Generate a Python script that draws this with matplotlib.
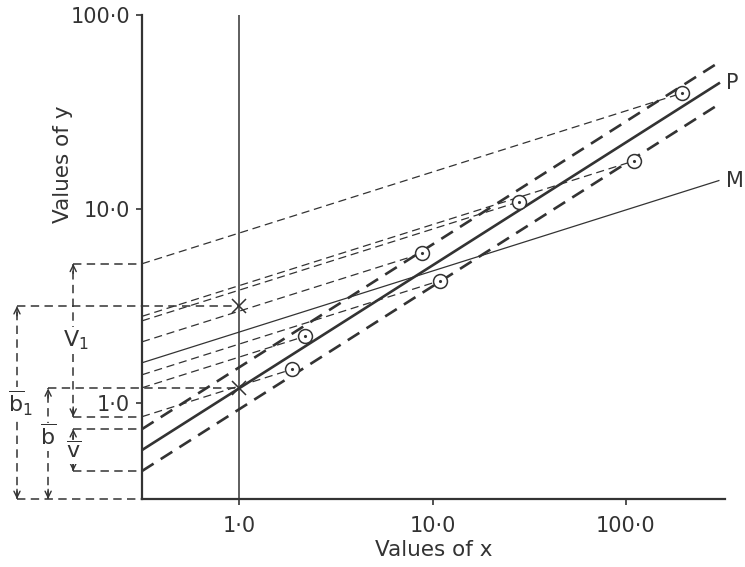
import numpy as np
import matplotlib
matplotlib.use('Agg')
import matplotlib.pyplot as plt
import matplotlib.transforms as mtransforms

pts_x = [1.87, 2.2, 8.8, 10.9, 28.0, 110.0, 194.0]
pts_y = [1.49, 2.21, 5.9, 4.27, 10.9, 17.7, 39.5]

# line P  y = p_a * x**p_b  with its dashed band (factor)
p_a, p_b = 1.19, 0.634
band = 10 ** 0.108
# line M  y = m_a * x**m_b ; the thin dashed lines share its slope
m_a, m_b = 2.32, 0.315

b1_val = 3.16          # upper cross at x = 1

x_lo, x_hi = 0.315, 325
y_lo, y_hi = 0.32, 100
x_end = 302

ticks = [1, 10, 100]
tick_labels = ['1·0', '10·0', '100·0']

ink = '#333333'
plt.rcParams['font.family'] = 'DejaVu Sans'
plt.rcParams['mathtext.fontset'] = 'dejavusans'

fig = plt.figure(figsize=(7.45, 5.67), dpi=100)
ax = fig.add_axes([0.1906, 0.1199, 0.7826, 0.8536])
ax.set_xscale('log')
ax.set_yscale('log')
ax.set_xlim(x_lo, x_hi)
ax.set_ylim(y_lo, y_hi)

xs = np.array([x_lo, x_end])
thick_dash = (0, (5.2, 3.2))
thin_dash = (0, (6.5, 3.8))

# P and its band
ax.plot(xs, p_a * xs ** p_b, color=ink, lw=1.9)
ax.plot(xs, p_a * xs ** p_b * band, color=ink, lw=1.9, ls=thick_dash)
ax.plot(xs, p_a * xs ** p_b / band, color=ink, lw=1.9, ls=thick_dash)
# M
ax.plot(xs, m_a * xs ** m_b, color=ink, lw=0.9)

# thin dashed lines through each point, slope of M
for xi, yi in zip(pts_x, pts_y):
    xx = np.array([x_lo, xi])
    ax.plot(xx, yi * (xx / xi) ** m_b, color=ink, lw=0.9, ls=thin_dash)

ax.axvline(1, color=ink, lw=1.1)
ax.plot([1, 1], [b1_val, p_a], 'x', color=ink, ms=10, mew=1.1, zorder=6)
ax.plot(pts_x, pts_y, 'o', ms=10, mfc='white', mec=ink, mew=1.1, zorder=5)
ax.plot(pts_x, pts_y, '.', ms=2.5, color=ink, zorder=6)

ax.annotate('P', xy=(x_end, p_a * x_end ** p_b), xytext=(5, 0),
            textcoords='offset points', va='center', ha='left', fontsize=15, color=ink)
ax.annotate('M', xy=(x_end, m_a * x_end ** m_b), xytext=(5, 0),
            textcoords='offset points', va='center', ha='left', fontsize=15, color=ink)

# axes
for s in ['top', 'right']:
    ax.spines[s].set_visible(False)
for s in ['left', 'bottom']:
    ax.spines[s].set_linewidth(1.6)
    ax.spines[s].set_color(ink)
ax.set_xticks(ticks, tick_labels)
ax.set_yticks(ticks, tick_labels)
ax.set_xticks([], minor=True)
ax.set_yticks([], minor=True)
ax.tick_params(direction='out', length=4.5, width=1.2, colors=ink, labelsize=15)
ax.tick_params(axis='x', pad=8)
ax.tick_params(axis='y', pad=4)

ax.text(0.5, -0.106, 'Values of x', transform=ax.transAxes,
        ha='center', va='center', fontsize=15.5, color=ink)
ax.text(-0.136, 0.692, 'Values of y', transform=ax.transAxes, rotation=90,
        ha='center', va='center', fontsize=15.5, color=ink)

# left-hand construction lines
trans = mtransforms.blended_transform_factory(ax.transAxes, ax.transData)
frac1 = (0 - np.log10(x_lo)) / (np.log10(x_hi) - np.log10(x_lo))
xa_b1, xa_b, xa_v = -0.2144, -0.161, -0.118
ann_dash = (0, (5.5, 3.5))

v1_top = pts_y[6] * (x_lo / pts_x[6]) ** m_b
v1_bot = pts_y[0] * (x_lo / pts_x[0]) ** m_b
p_lo = p_a * x_lo ** p_b
band_top, band_bot = p_lo * band, p_lo / band


def hline(y, x0, x1):
    ax.plot([x0, x1], [y, y], transform=trans, color=ink, lw=1.1, ls=ann_dash, clip_on=False)


def varrow(xa, y0, y1):
    ax.plot([xa, xa], [y0, y1], transform=trans, color=ink, lw=1.1, ls=ann_dash, clip_on=False)
    for tip, off in ((y1, -7), (y0, 7)):
        ax.annotate('', xy=(xa, tip), xycoords=trans, xytext=(0, off),
                    textcoords='offset points', annotation_clip=False,
                    arrowprops=dict(arrowstyle='->,head_length=0.45,head_width=0.22',
                                    lw=1.0, color=ink, shrinkA=0, shrinkB=0))


hline(b1_val, xa_b1, frac1)
hline(p_a, xa_b, frac1)
hline(v1_top, xa_v, 0)
hline(v1_bot, xa_v, 0)
hline(band_top, xa_v, 0)
hline(band_bot, xa_v, 0)
hline(y_lo, xa_b1, 0)

varrow(xa_b1, y_lo, b1_val)
varrow(xa_b, y_lo, p_a)
varrow(xa_v, v1_bot, v1_top)
varrow(xa_v, band_bot, band_top)

lab = dict(transform=trans, ha='center', va='center', color=ink, fontsize=16,
           bbox=dict(facecolor='white', edgecolor='none', pad=1))
ax.text(xa_b1 + 0.006, 1.0, r'$\overline{\mathrm{b}}_{\mathrm{1}}$', **lab)
ax.text(xa_b, 0.67, r'$\overline{\mathrm{b}}$', **lab)
ax.text(xa_v + 0.004, 2.1, r'$\mathrm{V}_{\mathrm{1}}$', **lab)
ax.text(xa_v, 0.56, r'$\overline{\mathrm{v}}$', **lab)

fig.savefig('out.png', dpi=100, facecolor='white')
